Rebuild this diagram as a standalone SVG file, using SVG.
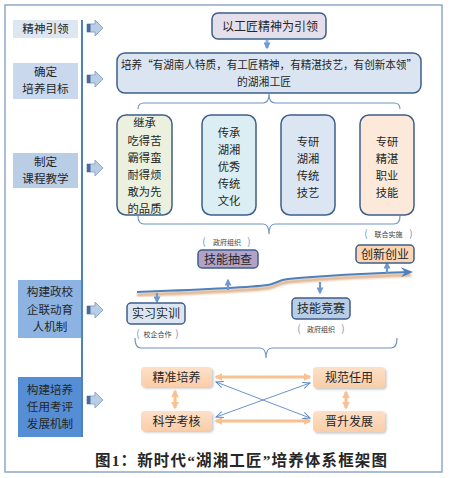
<svg xmlns="http://www.w3.org/2000/svg" width="453" height="478" viewBox="0 0 453 478">
<style>
text{font-family:"Noto Sans CJK SC","Noto Sans",sans-serif;fill:#262626}
.lab{font-size:11.6px;text-anchor:middle}
.course{font-size:11.3px;text-anchor:middle}
.node{font-size:12px;text-anchor:middle}
.small{font-size:7px;text-anchor:middle;fill:#404040}
.par{font-size:10px;fill:#7094c4;text-anchor:middle}
.box{stroke:#3e5f8a;stroke-width:1.5}
.brace{fill:none;stroke:#7094c4;stroke-width:1.2}
.ob{fill:url(#og);filter:url(#sh)}
.oa{stroke:#fac090;stroke-width:3;fill:none}
.ba{fill:#b9cde5;stroke:#8aa7cf;stroke-width:1}
.sa{stroke:#6d9bd1;stroke-width:2.2;fill:none}
.xa{stroke:#5b86c4;stroke-width:0.9;fill:none}
</style>
<defs>
<linearGradient id="og" x1="0" y1="0" x2="0" y2="1"><stop offset="0" stop-color="#fde0c8"/><stop offset="1" stop-color="#fbcda8"/></linearGradient>
<filter id="sh" x="-10%" y="-20%" width="130%" height="160%"><feDropShadow dx="1.5" dy="1.5" stdDeviation="1" flood-color="#808080" flood-opacity="0.45"/></filter>
<filter id="bl"><feGaussianBlur stdDeviation="0.8"/></filter>
<marker id="mh" viewBox="0 0 12 10" refX="10" refY="5" markerWidth="12" markerHeight="10" orient="auto" markerUnits="userSpaceOnUse"><path d="M0,0 L12,5 L0,10 L4,5 z" fill="#4f81bd"/></marker>
<marker id="sh1" viewBox="0 0 10 10" refX="8" refY="5" markerWidth="7" markerHeight="7" orient="auto-start-reverse" markerUnits="userSpaceOnUse"><path d="M0,0 L10,5 L0,10 z" fill="#6d9bd1"/></marker>
<marker id="oh" viewBox="0 0 10 10" refX="8" refY="5" markerWidth="8" markerHeight="8" orient="auto-start-reverse" markerUnits="userSpaceOnUse"><path d="M0,0 L10,5 L0,10 z" fill="#fac090"/></marker>
<marker id="xh" viewBox="0 0 10 10" refX="9" refY="5" markerWidth="8" markerHeight="8" orient="auto-start-reverse" markerUnits="userSpaceOnUse"><path d="M0,1 L9,5 L0,9" fill="none" stroke="#5b86c4" stroke-width="1.2"/></marker>
<g id="barr"><path class="ba" d="M0,-4 H8 V-8 L16,0 L8,8 V4 H0 Z"/><rect x="0" y="-4" width="3.5" height="8" fill="#4a6b9a"/></g>
</defs>
<rect x="5" y="5" width="437" height="467" fill="#ffffff" stroke="#8ea7cb" stroke-width="1.5"/>

<g id="left-labels">
<rect x="13" y="20" width="65" height="18" fill="#dde7f1"/>
<text class="lab" x="45.5" y="33.3">精神引领</text>
<rect x="13" y="63" width="65" height="36" fill="#c9d8ed"/>
<text class="lab" x="45.5" y="76">确定</text>
<text class="lab" x="45.5" y="93">培养目标</text>
<rect x="13" y="153" width="65" height="35" fill="#b9cde5"/>
<text class="lab" x="45.5" y="166">制定</text>
<text class="lab" x="45.5" y="183">课程教学</text>
<rect x="18" y="280" width="64" height="58" fill="#8db3e2"/>
<text class="lab" x="50" y="296">构建政校</text>
<text class="lab" x="50" y="313.5">企联动育</text>
<text class="lab" x="50" y="331">人机制</text>
<rect x="18" y="377" width="65" height="60" fill="#558ed5"/>
<text class="lab" x="50" y="394">构建培养</text>
<text class="lab" x="50" y="411">任用考评</text>
<text class="lab" x="50" y="428">发展机制</text>
<line x1="82" y1="20" x2="82" y2="437" stroke="#4f81bd" stroke-width="2"/>
<use href="#barr" x="87" y="28"/>
<use href="#barr" x="87" y="79"/>
<use href="#barr" x="87" y="168"/>
<use href="#barr" x="87" y="310"/>
<use href="#barr" x="87" y="400"/>
</g>

<g id="connectors">
<line x1="267" y1="40" x2="267" y2="48" stroke="#8eb4e3" stroke-width="3" marker-end="url(#sh1)"/>
<path class="brace" d="M138,109 Q138,103 144,103 H263 Q269,103 269,94 Q269,103 275,103 H394 Q400,103 400,109"/>
<path class="brace" d="M138,216 Q138,224 144,224 H263 Q269,224 269,234 Q269,224 275,224 H394 Q400,224 400,216"/>
<path class="brace" d="M135,338 Q135,348 141,348 H260 Q266,348 266,358 Q266,348 272,348 H391 Q397,348 397,338"/>
<path d="M137,292 C190,290 245,288 268,285 C276,284 278,280 288,279 C330,275 375,273 411,272" fill="none" stroke="#d49a68" stroke-width="3.5" opacity="0.75" transform="translate(0,3)" filter="url(#bl)"/>
<path d="M137,292 C190,290 245,288 268,285 C276,284 278,280 288,279 C330,275 375,273 411,272" fill="none" stroke="#4f81bd" stroke-width="2" marker-end="url(#mh)"/>
<line class="sa" x1="157" y1="293" x2="157" y2="302" marker-end="url(#sh1)"/>
<line class="sa" x1="228" y1="290" x2="228" y2="280" marker-end="url(#sh1)"/>
<line class="sa" x1="320" y1="282" x2="320" y2="293" marker-end="url(#sh1)"/>
<line class="sa" x1="387" y1="273" x2="387" y2="263" marker-end="url(#sh1)"/>
<line class="oa" x1="216" y1="377" x2="310" y2="377" marker-start="url(#oh)" marker-end="url(#oh)"/>
<line class="oa" x1="216" y1="421" x2="310" y2="421" marker-start="url(#oh)" marker-end="url(#oh)"/>
<line class="oa" stroke-width="2.5" x1="175" y1="391" x2="175" y2="408" marker-start="url(#oh)" marker-end="url(#oh)"/>
<line class="oa" stroke-width="2.5" x1="346" y1="392" x2="346" y2="408" marker-start="url(#oh)" marker-end="url(#oh)"/>
<line class="xa" x1="216" y1="382" x2="310" y2="418" marker-start="url(#xh)" marker-end="url(#xh)"/>
<line class="xa" x1="216" y1="417" x2="310" y2="383" marker-start="url(#xh)" marker-end="url(#xh)"/>
</g>

<g id="n-lead">
<rect class="box" x="212" y="13" width="114" height="26" rx="6" fill="#e5dfec"/>
<text class="node" x="270" y="30.5">以工匠精神为引领</text>
</g>
<g id="n-goal">
<rect class="box" x="117" y="53" width="304" height="40" rx="8" fill="#dbe5f1"/>
<text x="121" y="68.5" font-size="10.8" textLength="296" lengthAdjust="spacingAndGlyphs">培养“有湖南人特质，有工匠精神，有精湛技艺，有创新本领”</text>
<text x="237" y="85.5" font-size="10.8">的湖湘工匠</text>
</g>
<g id="n-c1">
<rect class="box" x="117" y="115" width="55" height="100" rx="9" fill="#ebf1de"/>
<text class="course" x="144.5" y="127">继承</text>
<text class="course" x="144.5" y="145">吃得苦</text>
<text class="course" x="144.5" y="162">霸得蛮</text>
<text class="course" x="144.5" y="179">耐得烦</text>
<text class="course" x="144.5" y="196">敢为先</text>
<text class="course" x="144.5" y="213">的品质</text>
</g>
<g id="n-c2">
<rect class="box" x="202" y="115" width="54" height="100" rx="9" fill="#dbeef4"/>
<text class="course" x="229" y="137">传承</text>
<text class="course" x="229" y="154">湖湘</text>
<text class="course" x="229" y="171">优秀</text>
<text class="course" x="229" y="188">传统</text>
<text class="course" x="229" y="205">文化</text>
</g>
<g id="n-c3">
<rect class="box" x="281" y="115" width="54" height="100" rx="9" fill="#dce6f2"/>
<text class="course" x="308" y="146">专研</text>
<text class="course" x="308" y="163">湖湘</text>
<text class="course" x="308" y="180">传统</text>
<text class="course" x="308" y="197">技艺</text>
</g>
<g id="n-c4">
<rect class="box" x="360" y="115" width="54" height="100" rx="9" fill="#fde9d9"/>
<text class="course" x="387" y="146">专研</text>
<text class="course" x="387" y="163">精湛</text>
<text class="course" x="387" y="180">职业</text>
<text class="course" x="387" y="197">技能</text>
</g>

<g id="n-check">
<text class="par" x="204" y="245">(</text><text class="par" x="249" y="245">)</text>
<text class="small" x="227" y="244.5">政府组织</text>
<rect class="box" x="198" y="250" width="60" height="18" rx="4" fill="#b3a2c7"/>
<text class="node" x="228" y="263.5">技能抽查</text>
</g>
<g id="n-innov">
<text class="par" x="366" y="237">(</text><text class="par" x="411" y="237">)</text>
<text class="small" x="388.5" y="236.5">联合实施</text>
<rect class="box" x="356" y="245" width="58" height="18" rx="4" fill="#fcd5b5"/>
<text class="node" x="385" y="258.5">创新创业</text>
</g>
<g id="n-intern">
<rect class="box" x="127" y="303" width="58" height="21" rx="4" fill="#dce6f2"/>
<text class="node" x="156" y="318">实习实训</text>
<text class="par" x="138" y="337">(</text><text class="par" x="177" y="337">)</text>
<text class="small" x="157.5" y="336.5">校企合作</text>
</g>
<g id="n-contest">
<rect class="box" x="292" y="298" width="58" height="21" rx="4" fill="#b9cde5"/>
<text class="node" x="321" y="313">技能竞赛</text>
<text class="par" x="299" y="332">(</text><text class="par" x="343" y="332">)</text>
<text class="small" x="321" y="331.5">政府组织</text>
</g>

<g id="n-train">
<rect class="ob" x="141" y="367" width="71" height="20" rx="4"/>
<text class="node" x="176.5" y="381.5">精准培养</text>
</g>
<g id="n-assess">
<rect class="ob" x="141" y="411" width="71" height="20" rx="4"/>
<text class="node" x="176.5" y="425.5">科学考核</text>
</g>
<g id="n-employ">
<rect class="ob" x="313" y="367" width="72" height="21" rx="4"/>
<text class="node" x="349" y="382">规范任用</text>
</g>
<g id="n-promote">
<rect class="ob" x="313" y="411" width="72" height="21" rx="4"/>
<text class="node" x="349" y="426">晋升发展</text>
</g>

<text x="95" y="466" font-size="15.5" font-weight="bold" textLength="292" lengthAdjust="spacing" style="font-family:'Liberation Serif','Noto Sans CJK SC',serif">图1：新时代“湖湘工匠”培养体系框架图</text>
</svg>
